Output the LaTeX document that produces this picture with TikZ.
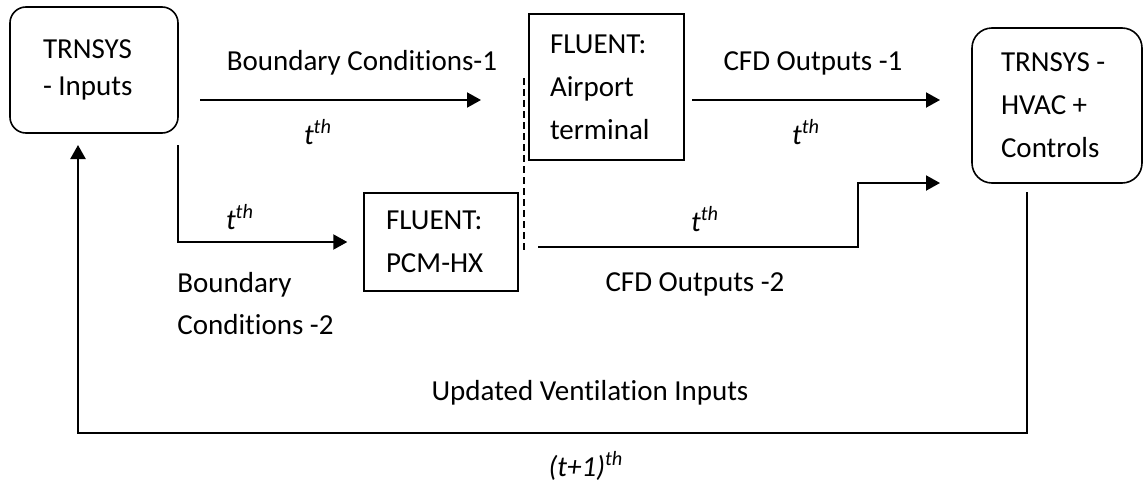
\documentclass[tikz,border=0pt]{standalone}
\usepackage{fontspec}
\setmainfont{Carlito}[Ligatures=NoCommon]
\usetikzlibrary{arrows.meta,positioning}

\tikzset{
  softbox/.style={draw,line width=0.8pt,rounded corners=8pt,align=left,inner ysep=0pt,
    execute at begin node={\spaceskip=0pt\relax}},
  hardbox/.style={draw,line width=0.7pt,align=left,inner ysep=0pt,
    execute at begin node={\spaceskip=0pt\relax}},
  flow/.style={line width=1pt,-{Triangle[length=7pt,width=7.5pt]}},
  lbl/.style={inner sep=0pt},
}
\newcommand{\tth}{\textit{t\textsuperscript{th}}}

\begin{document}
\begin{tikzpicture}[x=0.5pt,y=-0.5pt,font=\fontsize{14.5}{21.5}\selectfont]
    \useasboundingbox (0,0) rectangle (1144,482);
    % blocks
    \node[softbox,font=\fontsize{14.5}{18.5}\selectfont,text width=51pt,inner xsep=16.5pt,
      minimum height=63pt] (inputs) at (94,70) {TRNSYS\\- Inputs};
    \node[hardbox,text width=56.5pt,inner xsep=10.5pt,minimum height=73pt]
      (airport) at (606.5,87) {FLUENT:\\Airport\\terminal};
    \node[hardbox,text width=55pt,inner xsep=11pt,minimum height=49pt]
      (pcm) at (441,242) {FLUENT:\\PCM-HX};
    \node[softbox,rounded corners=10pt,text width=56pt,inner xsep=14.5pt,minimum height=77.5pt]
      (hvac) at (1057,105.5) {TRNSYS -\\HVAC +\\Controls};
    % free ends
    \coordinate (bc1a) at (200,100);
    \coordinate (bc1b) at (481,100);
    \coordinate (cfd1a) at (692,100);
    \coordinate (cfd1b) at (940,100);
    \coordinate (bc2a) at (178,145);
    \coordinate (cfd2a) at (538,247);
    \coordinate (cfd2b) at (940,183);
    \coordinate (fba) at (1027,192);
    \coordinate (fbb) at (78,145);
    % arrows
    \draw[flow] (bc1a) -- (bc1b);
    \draw[flow] (cfd1a) -- (cfd1b);
    \draw[flow,shorten >=8pt] (bc2a) |- (pcm.west);
    \draw[flow] (cfd2a) -- (858,247) -- (858,183) -- (cfd2b);
    \draw[flow,line width=1.2pt] (fba) -- (1027,433) -- (78,433) -- (fbb);
    \draw[line width=0.8pt,dash pattern=on 3.5pt off 2pt] (524,78) -- (524,252);
    % labels
    \node[lbl] (bc1txt) at (362,63) {Boundary Conditions-1};
    \node[lbl] (bc1t) at (318,132) {\tth};
    \node[lbl] (cfd1txt) at (813,63) {CFD Outputs -1};
    \node[lbl] (cfd1t) at (806,132) {\tth};
    \node[lbl] (bc2t) at (240,217) {\tth};
    \node[lbl,anchor=west,align=left,font=\fontsize{14.5}{21}\selectfont]
      (bc2txt) at (177,304) {Boundary\\Conditions -2};
    \node[lbl] (cfd2t) at (705,219) {\tth};
    \node[lbl] (cfd2txt) at (695,284) {CFD Outputs -2};
    \node[lbl] (fbtxt) at (590,393) {Updated Ventilation Inputs};
    \node[lbl] (fbt) at (586,466) {\textit{(t+1)\textsuperscript{th}}};
\end{tikzpicture}
\end{document}
